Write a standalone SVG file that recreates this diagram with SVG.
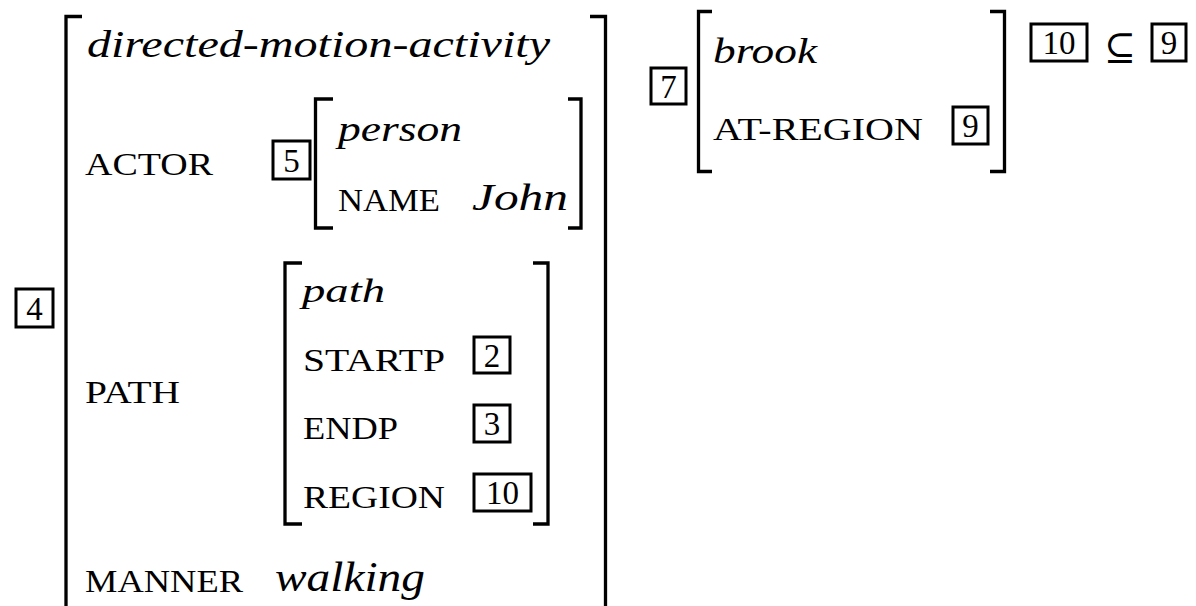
<svg xmlns="http://www.w3.org/2000/svg" width="1196" height="606" viewBox="0 0 1196 606">
<style>
.br{fill:none;stroke:#000;stroke-width:3.3;stroke-linecap:butt;stroke-linejoin:miter}
.bx{fill:none;stroke:#000;stroke-width:3}
.it{font-family:"Liberation Serif","DejaVu Serif",serif;font-style:italic;fill:#000}
.sc{font-family:"Liberation Serif","DejaVu Serif",serif;fill:#000;font-size:32px}
.dg{font-family:"Liberation Serif","DejaVu Serif",serif;fill:#000;font-size:33px;text-anchor:middle}
</style>
<rect width="1196" height="606" fill="#fff"/>

<g id="tag4">
<rect class="bx" x="16" y="289" width="37" height="38"/>
<text class="dg" x="34.5" y="320">4</text>
</g>

<g id="avm-main">
<path class="br" d="M82 16.5H66V612"/>
<path class="br" d="M590 16.5H605.5V612"/>
<text class="it" x="87" y="57" font-size="38" textLength="463" lengthAdjust="spacingAndGlyphs">directed-motion-activity</text>
<text class="sc" x="85" y="175" textLength="128" lengthAdjust="spacingAndGlyphs">ACTOR</text>
<text class="sc" x="85" y="403" textLength="95" lengthAdjust="spacingAndGlyphs">PATH</text>
<text class="sc" x="85" y="592" font-size="30" textLength="158" lengthAdjust="spacingAndGlyphs">MANNER</text>
<text class="it" x="275" y="591" font-size="42" textLength="150" lengthAdjust="spacingAndGlyphs">walking</text>
</g>

<g id="avm-person">
<rect class="bx" x="273" y="141" width="37" height="38"/>
<text class="dg" x="291.5" y="172">5</text>
<path class="br" d="M333 99H315.5V228H333"/>
<path class="br" d="M568 99H581V228H568"/>
<text class="it" x="338" y="141" font-size="36" textLength="124" lengthAdjust="spacingAndGlyphs">person</text>
<text class="sc" x="338" y="211" font-size="28" textLength="102" lengthAdjust="spacingAndGlyphs">NAME</text>
<text class="it" x="472" y="210" font-size="38" textLength="96" lengthAdjust="spacingAndGlyphs">John</text>
</g>

<g id="avm-path">
<path class="br" d="M302 263H285V524H302"/>
<path class="br" d="M533 263H548V524H533"/>
<text class="it" x="302" y="302" font-size="34" textLength="83" lengthAdjust="spacingAndGlyphs">path</text>
<text class="sc" x="303" y="371" textLength="142" lengthAdjust="spacingAndGlyphs">STARTP</text>
<text class="sc" x="303" y="439" textLength="95" lengthAdjust="spacingAndGlyphs">ENDP</text>
<text class="sc" x="303" y="508" textLength="142" lengthAdjust="spacingAndGlyphs">REGION</text>
<rect class="bx" x="474" y="337" width="36" height="36"/>
<text class="dg" x="492" y="367">2</text>
<rect class="bx" x="474" y="405" width="36" height="37"/>
<text class="dg" x="492" y="435">3</text>
<rect class="bx" x="474" y="474" width="57" height="37"/>
<text class="dg" x="502.5" y="504">10</text>
</g>

<g id="avm-brook">
<rect class="bx" x="651" y="68" width="35" height="36"/>
<text class="dg" x="668.5" y="98">7</text>
<path class="br" d="M712 11.5H698.5V171.5H712"/>
<path class="br" d="M990 11.5H1004.5V171.5H990"/>
<text class="it" x="713" y="63" font-size="36" textLength="104" lengthAdjust="spacingAndGlyphs">brook</text>
<text class="sc" x="713" y="140" textLength="210" lengthAdjust="spacingAndGlyphs">AT-REGION</text>
<rect class="bx" x="953" y="107" width="35" height="37"/>
<text class="dg" x="970.5" y="137">9</text>
</g>

<g id="constraint">
<rect class="bx" x="1031" y="24" width="56" height="37"/>
<text class="dg" x="1059" y="54">10</text>
<text x="1120" y="60" font-family="DejaVu Serif, serif" font-size="38" text-anchor="middle" fill="#000">⊆</text>
<rect class="bx" x="1152" y="24" width="34" height="37"/>
<text class="dg" x="1169" y="54">9</text>
</g>

<g id="connectors"/>
</svg>
